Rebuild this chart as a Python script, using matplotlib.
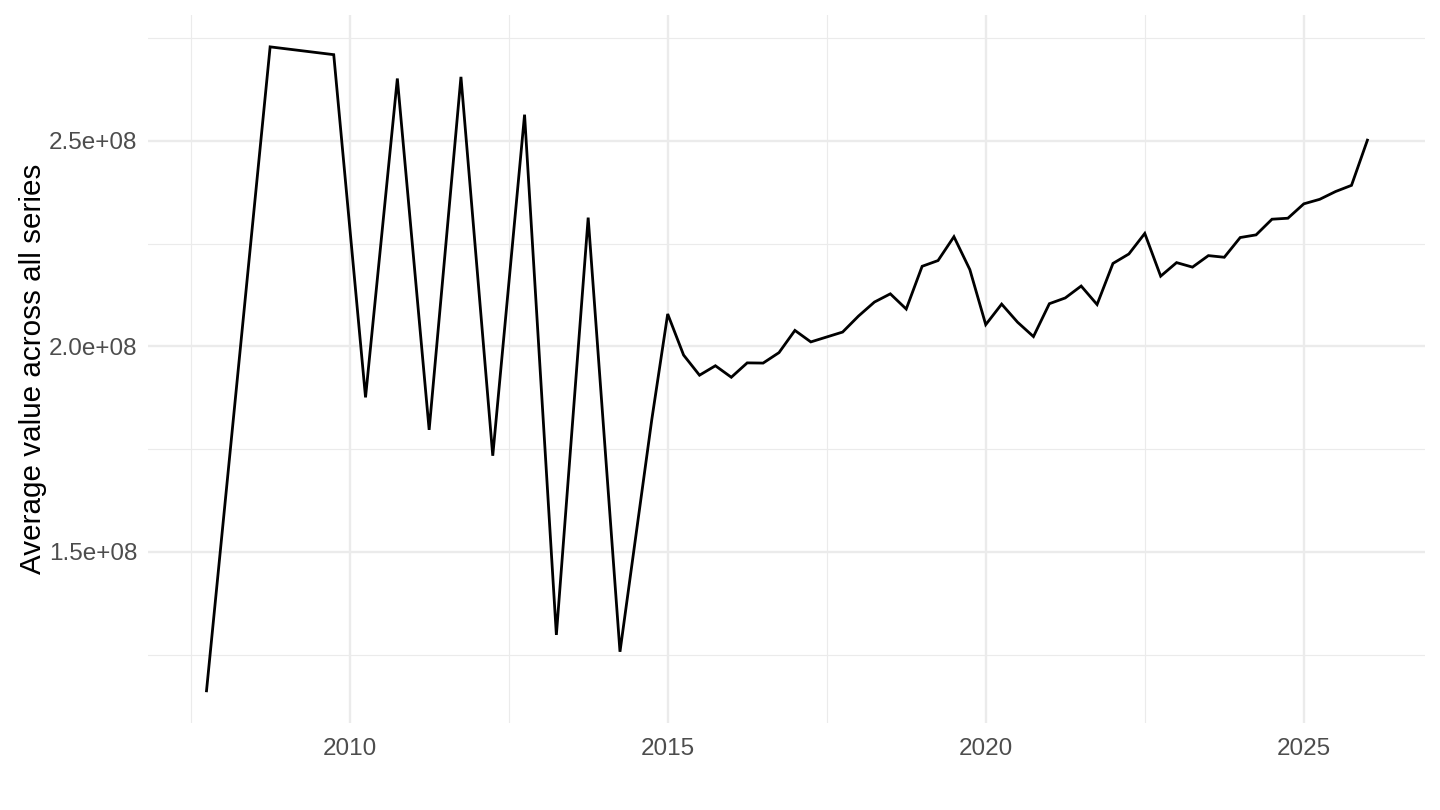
import matplotlib
matplotlib.use("Agg")
import matplotlib.pyplot as plt
from matplotlib.ticker import FixedLocator, FuncFormatter

plt.rcParams['font.family'] = ['Liberation Sans', 'DejaVu Sans']

# decimal years of each observation
years = [2007.75, 2008.75, 2009.75, 2010.25, 2010.75, 2011.25, 2011.75,
         2012.25, 2012.75, 2013.25, 2013.75, 2014.25, 2014.75,
         2015.0, 2015.25, 2015.5, 2015.75, 2016.0, 2016.25, 2016.5, 2016.75,
         2017.0, 2017.25, 2017.5, 2017.75, 2018.0, 2018.25, 2018.5, 2018.75,
         2019.0, 2019.25, 2019.5, 2019.75, 2020.0, 2020.25, 2020.5, 2020.75,
         2021.0, 2021.25, 2021.5, 2021.75, 2022.0, 2022.25, 2022.5, 2022.75,
         2023.0, 2023.25, 2023.5, 2023.75, 2024.0, 2024.25, 2024.5, 2024.75,
         2025.0, 2025.25, 2025.5, 2025.75, 2026.0]
# average value, in units of 1e8
avg_1e8 = [1.162, 2.729, 2.710, 1.876, 2.652, 1.797, 2.656,
           1.734, 2.564, 1.298, 2.3135, 1.257, 1.822,
           2.079, 1.979, 1.930, 1.953, 1.925, 1.960, 1.9595, 1.985,
           2.039, 2.011, 2.023, 2.035, 2.074, 2.108, 2.128, 2.091,
           2.195, 2.209, 2.267, 2.187, 2.053, 2.103, 2.059, 2.024,
           2.104, 2.118, 2.147, 2.102, 2.202, 2.225, 2.275, 2.171,
           2.204, 2.193, 2.221, 2.217, 2.265, 2.2715, 2.3096, 2.312,
           2.347, 2.358, 2.377, 2.392, 2.502]
values = [v * 1e8 for v in avg_1e8]

x_major = [2010, 2015, 2020, 2025]
x_minor = [2007.5, 2012.5, 2017.5, 2022.5]
y_major = [1.5e8, 2.0e8, 2.5e8]
y_minor = [1.25e8, 1.75e8, 2.25e8, 2.75e8]

fig = plt.figure(figsize=(14.4, 8.1), dpi=100)
ax = fig.add_axes([0.1031, 0.1074, 0.8868, 0.8745])

ax.plot(years, values, color='black', lw=2.0, solid_joinstyle='miter')

# ggplot-like expansion of 5%
xr = max(years) - min(years)
yr = max(values) - min(values)
ax.set_xlim(min(years) - 0.05 * xr, max(years) + 0.05 * xr)
ax.set_ylim(min(values) - 0.05 * yr, max(values) + 0.05 * yr)

ax.xaxis.set_major_locator(FixedLocator(x_major))
ax.xaxis.set_minor_locator(FixedLocator(x_minor))
ax.yaxis.set_major_locator(FixedLocator(y_major))
ax.yaxis.set_minor_locator(FixedLocator(y_minor))
ax.xaxis.set_major_formatter(FuncFormatter(lambda v, p: f"{v:.0f}"))
ax.yaxis.set_major_formatter(FuncFormatter(lambda v, p: f"{v:.1e}"))

ax.grid(which='major', color='#ebebeb', lw=1.7)
ax.grid(which='minor', color='#ebebeb', lw=0.85)
ax.set_axisbelow(True)
for s in ax.spines.values():
    s.set_visible(False)
ax.tick_params(which='both', length=0)
ax.tick_params(axis='x', labelsize=17.5, colors='#4d4d4d', pad=11)
ax.tick_params(axis='y', labelsize=17.5, colors='#4d4d4d', pad=8)

ax.set_ylabel('Average value across all series', fontsize=21.3, color='black', labelpad=1)

fig.savefig('out.png', dpi=100, facecolor='white')
